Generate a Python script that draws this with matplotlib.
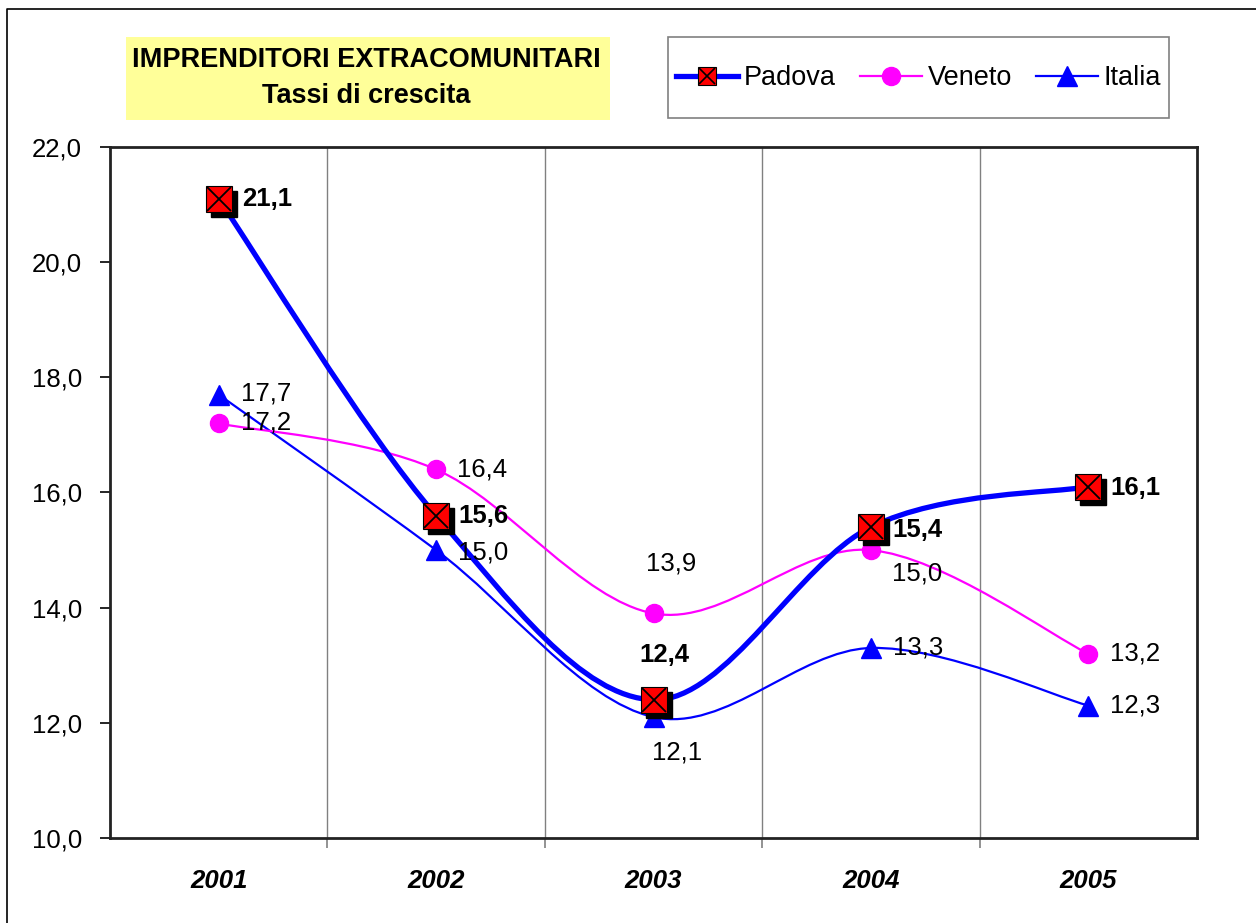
import numpy as np
import matplotlib
matplotlib.use("Agg")
import matplotlib.pyplot as plt
from matplotlib.path import Path
from matplotlib.patches import PathPatch, Rectangle
from matplotlib.lines import Line2D
from matplotlib.legend_handler import HandlerTuple
import matplotlib.transforms as mtransforms

plt.rcParams['font.family'] = ['Liberation Sans', 'DejaVu Sans']

years = ['2001', '2002', '2003', '2004', '2005']
padova = [21.1, 15.6, 12.4, 15.4, 16.1]
veneto = [17.2, 16.4, 13.9, 15.0, 13.2]
italia = [17.7, 15.0, 12.1, 13.3, 12.3]

# label offsets in pixels (dx, dy) and horizontal alignment
padova_off = [(23, 0, 'left'), (22, 0, 'left'), (11, 45, 'center'), (21, -3, 'left'), (22, -1, 'left')]
veneto_off = [(22, 1, 'left'), (21, 0, 'left'), (18, 50, 'center'), (21, -23, 'left'), (22, 0, 'left')]
italia_off = [(22, 1, 'left'), (22, -2, 'left'), (24, -35, 'center'), (22, 0, 'left'), (22, 0, 'left')]

W, H = 1256, 923
fig = plt.figure(figsize=(W / 100, H / 100), dpi=100)
ax = fig.add_axes([110 / W, 1 - 838 / H, (1197 - 110) / W, (838 - 147) / H])

x = np.arange(1, len(years) + 1)


def smooth_path(xs, ys):
    # Catmull-Rom style cubic bezier through the points (like Excel smoothed lines)
    pts = np.column_stack([xs, ys]).astype(float)
    ext = np.vstack([pts[0], pts, pts[-1]])
    verts = [pts[0]]
    codes = [Path.MOVETO]
    for i in range(len(pts) - 1):
        p0, p1, p2, p3 = ext[i], ext[i + 1], ext[i + 2], ext[i + 3]
        c1 = p1 + (p2 - p0) / 6
        c2 = p2 - (p3 - p1) / 6
        verts += [c1, c2, p2]
        codes += [Path.CURVE4] * 3
    return Path(verts, codes)


ax.add_patch(PathPatch(smooth_path(x, italia), fill=False, edgecolor='#0000FF', lw=1.6, zorder=3))
ax.add_patch(PathPatch(smooth_path(x, veneto), fill=False, edgecolor='#FF00FF', lw=1.6, zorder=3))
ax.add_patch(PathPatch(smooth_path(x, padova), fill=False, edgecolor='#0000FF', lw=3.8, zorder=4))

ax.plot(x, veneto, ls='', marker='o', ms=13, mfc='#FF00FF', mec='#FF00FF', zorder=5)
ax.plot(x, italia, ls='', marker='^', ms=15, mfc='#0000FF', mec='#0000FF', zorder=5)
shadow = mtransforms.offset_copy(ax.transData, fig=fig, x=5, y=-5, units='dots')
ax.plot(x, padova, ls='', marker='s', ms=19, mfc='black', mec='black', transform=shadow, zorder=6)
ax.plot(x, padova, ls='', marker='s', ms=19, mfc='#FF0000', mec='black', mew=0.8, zorder=7)
ax.plot(x, padova, ls='', marker='x', ms=17, mec='black', mew=1.3, zorder=8)


def labels(vals, offs, bold):
    for xi, v, (dx, dy, ha) in zip(x, vals, offs):
        ax.annotate(f"{v:.1f}".replace('.', ','), (xi, v), xytext=(dx * 0.72, dy * 0.72),
                    textcoords='offset points', ha=ha, va='center', fontsize=18.5,
                    fontweight='bold' if bold else 'normal', zorder=9)


labels(italia, italia_off, False)
labels(veneto, veneto_off, False)
labels(padova, padova_off, True)

ax.set_xlim(0.5, len(years) + 0.5)
ax.set_ylim(10, 22)
ax.set_yticks(np.arange(10, 22.1, 2))
ax.set_yticklabels([f"{t:.1f}".replace('.', ',') for t in np.arange(10, 22.1, 2)], fontsize=18.5)
ax.set_xticks(x)
ax.set_xticklabels(years, fontsize=18.5, fontweight='bold', fontstyle='italic')
ax.tick_params(axis='x', length=0, pad=22)
ax.tick_params(axis='y', length=7, width=1.2, pad=13, direction='out')
ax.set_xticks(np.arange(1.5, len(years), 1), minor=True)
ax.tick_params(axis='x', which='minor', length=7, color='#808080', width=1.2, direction='out')
ax.grid(True, which='minor', axis='x', color='#808080', lw=1)
for s in ax.spines.values():
    s.set_linewidth(2)
    s.set_color('#222222')

# title box
fig.patches.append(Rectangle((126 / W, 1 - 120 / H), (610 - 126) / W, (120 - 37) / H,
                             transform=fig.transFigure, facecolor='#FFFF99', edgecolor='none'))
fig.text(366 / W, 1 - 60 / H, 'IMPRENDITORI EXTRACOMUNITARI', ha='center', va='center',
         fontsize=19.5, fontweight='bold')
fig.text(366 / W, 1 - 96 / H, 'Tassi di crescita', ha='center', va='center',
         fontsize=19.5, fontweight='bold')

# legend box
fig.patches.append(Rectangle((668 / W, 1 - 118 / H), (1169 - 668) / W, (118 - 37) / H,
                             transform=fig.transFigure, facecolor='white', edgecolor='#808080', lw=1.2))
h_pad = (Line2D([], [], color='#0000FF', lw=3.8, marker='s', ms=13, mfc='#FF0000', mec='black', mew=0.8),
         Line2D([], [], ls='', marker='x', ms=12, mec='black', mew=1.2))
h_ven = Line2D([], [], color='#FF00FF', lw=1.6, marker='o', ms=13, mfc='#FF00FF', mec='#FF00FF')
h_ita = Line2D([], [], color='#0000FF', lw=1.6, marker='^', ms=14, mfc='#0000FF', mec='#0000FF')
leg = fig.legend([h_pad, h_ven, h_ita], ['Padova', 'Veneto', 'Italia'],
                 handler_map={tuple: HandlerTuple(ndivide=1, pad=0)},
                 loc='center', bbox_to_anchor=((668 + 1169) / 2 / W, 1 - 78 / H),
                 ncol=3, frameon=False, fontsize=19.5, handlelength=2.3, handletextpad=0.2,
                 columnspacing=0.9)

# outer border (top and left visible)
fig.add_artist(Line2D([7 / W, 7 / W, 1], [0, 1 - 9 / H, 1 - 9 / H], transform=fig.transFigure,
                      color='black', lw=1.2))

fig.savefig('out.png', dpi=100)
